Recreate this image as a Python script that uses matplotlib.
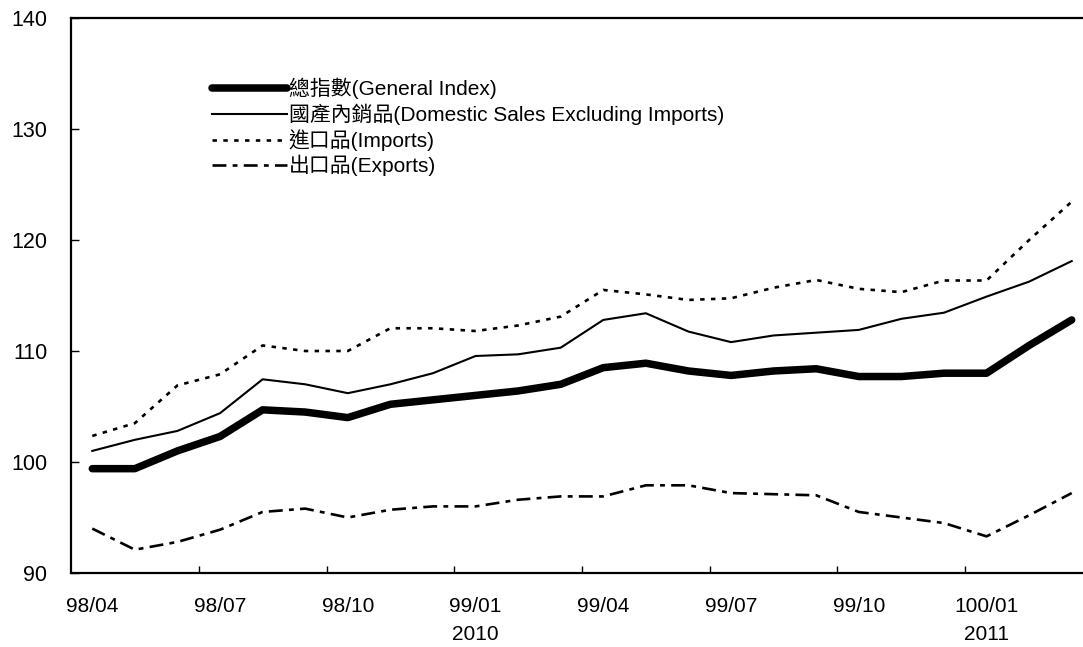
import matplotlib
matplotlib.use("Agg")
import matplotlib.pyplot as plt

plt.rcParams['font.family'] = ['Liberation Sans', 'Noto Sans CJK TC', 'DejaVu Sans']
plt.rcParams['lines.scale_dashes'] = False

months = ["98/04", "98/05", "98/06", "98/07", "98/08", "98/09", "98/10", "98/11",
          "98/12", "99/01", "99/02", "99/03", "99/04", "99/05", "99/06", "99/07",
          "99/08", "99/09", "99/10", "99/11", "99/12", "100/01", "100/02", "100/03"]

general = [99.4, 99.4, 101.0, 102.3, 104.7, 104.5, 104.0, 105.2, 105.6, 106.0, 106.4, 107.0,
           108.5, 108.9, 108.2, 107.8, 108.2, 108.4, 107.7, 107.7, 108.0, 108.0, 110.5, 112.8]
domestic = [101.0, 102.0, 102.8, 104.4, 107.45, 107.0, 106.2, 107.0, 108.0, 109.55, 109.7, 110.3,
            112.8, 113.4, 111.75, 110.8, 111.4, 111.65, 111.9, 112.9, 113.45, 114.9, 116.25, 118.1]
imports = [102.35, 103.5, 106.9, 107.9, 110.5, 110.0, 110.0, 112.05, 112.05, 111.8, 112.3, 113.1,
           115.5, 115.1, 114.6, 114.75, 115.7, 116.4, 115.6, 115.3, 116.35, 116.35, 120.0, 123.45]
exports = [94.0, 92.1, 92.8, 93.9, 95.5, 95.8, 95.0, 95.7, 96.0, 96.0, 96.6, 96.9,
           96.9, 97.9, 97.9, 97.2, 97.1, 97.0, 95.5, 95.0, 94.5, 93.3, 95.2, 97.2]

labels = ["總指數(General Index)",
          "國產內銷品(Domestic Sales Excluding Imports)",
          "進口品(Imports)",
          "出口品(Exports)"]

tick_labels = {0: "98/04", 3: "98/07", 6: "98/10", 9: "99/01\n2010",
               12: "99/04", 15: "99/07", 18: "99/10", 21: "100/01\n2011"}

W, H = 1083, 647
fig = plt.figure(figsize=(W / 100, H / 100), dpi=100)
ax = fig.add_axes([71 / W, 1 - 573 / H, (1093 - 71) / W, (573 - 18) / H])

x = list(range(len(months)))
ax.plot(x, general, color="black", lw=5.4, solid_capstyle="round", label=labels[0])
ax.plot(x, domestic, color="black", lw=1.5, label=labels[1])
ax.plot(x, imports, color="black", lw=1.9, linestyle=(0, (3.2, 4.6)), label=labels[2])
ax.plot(x, exports, color="black", lw=1.9, linestyle=(0, (10, 4.5, 3.5, 4.5)), label=labels[3])

ax.set_xlim(-0.5, len(months) - 0.5)
ax.set_ylim(90, 140)
ax.set_yticks(range(90, 141, 10))

# tick marks sit between categories, labels sit on the categories
ax.set_xticks([i - 0.5 for i in range(3, len(months), 3)])
ax.set_xticklabels([])
ax.set_xticks(list(tick_labels.keys()), minor=True)
ax.set_xticklabels(list(tick_labels.values()), minor=True, linespacing=1.6)
ax.tick_params(axis="x", which="major", direction="in", length=5, width=1)
ax.tick_params(axis="x", which="minor", length=0, pad=17, labelsize=15)
ax.tick_params(axis="y", direction="in", length=6, width=1, pad=17, labelsize=15.5)

ax.spines["right"].set_visible(False)
for s in ["left", "top", "bottom"]:
    ax.spines[s].set_linewidth(1.6)

leg = ax.legend(loc="upper left", bbox_to_anchor=(212 / W, 1 - 78 / H),
                bbox_transform=fig.transFigure, frameon=False, fontsize=15,
                handlelength=3.6, handletextpad=0.08, labelspacing=0.2,
                borderpad=0, borderaxespad=0)

fig.savefig("out.png", dpi=100)
